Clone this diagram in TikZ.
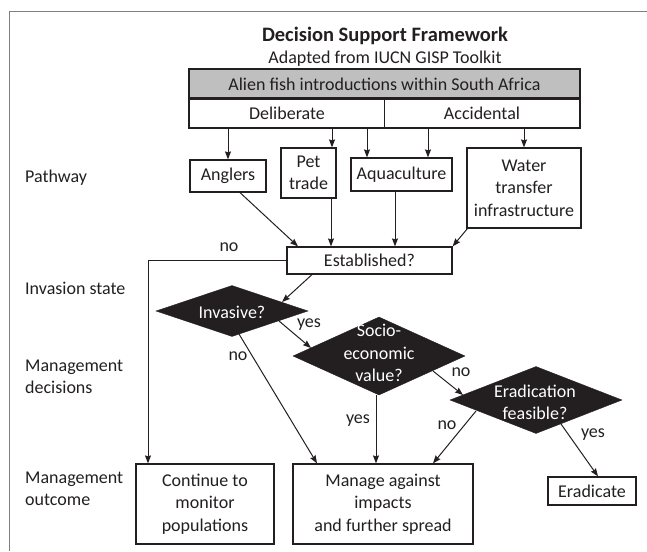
\documentclass[tikz,border=0pt]{standalone}
\usepackage{fontspec}
\setmainfont{Carlito}
\usetikzlibrary{shapes.geometric,arrows.meta,calc}
\definecolor{ink}{RGB}{35,31,32}
\definecolor{hdrgray}{RGB}{191,191,191}
\definecolor{frm}{RGB}{128,128,128}
\begin{document}
\begin{tikzpicture}[x=1pt,y=-1pt,
  font=\fontsize{18}{22.5}\selectfont, text=ink,
  box/.style={draw=ink, line width=1.2pt, fill=white, align=center, inner sep=0pt},
  dia/.style={diamond, fill=ink, draw=ink, inner sep=0pt},
  wtxt/.style={text=white, align=center, inner sep=0pt},
  lbl/.style={inner sep=0pt},
  side/.style={inner sep=0pt, anchor=west, align=left},
  arr/.style={draw=ink, line width=1pt, -{Stealth[length=8pt,width=6pt,inset=1pt]}},
  conn/.style={draw=ink, line width=1pt}]
\useasboundingbox (0,0) rectangle (647,551);
\draw[frm, line width=1pt] (647,12) -- (9,12) -- (9,551);

% titles
\node[lbl, font=\fontsize{20.5}{24}\selectfont\bfseries] (title) at (385,36) {Decision Support Framework};
\node[lbl] (sub) at (385,59) {Adapted from IUCN GISP Toolkit};

% header boxes
\node[box, fill=hdrgray, minimum width=391pt, minimum height=29pt] (hdr) at (384.5,83.5) {};
\node[lbl] (hdrt) at (384.5,84) {Alien fish introductions within South Africa};
\node[box, minimum width=391pt, minimum height=30pt] (src) at (384.5,113) {};
\draw[conn, line width=1.2pt] (src.north) -- (src.south);
\draw[draw=ink, line width=2.6pt] (hdr.south west) -- (hdr.south east);
\node[lbl] (delib) at (287,113) {Deliberate};
\node[lbl] (accid) at (482,113) {Accidental};

% pathway boxes
\node[box, minimum width=76pt, minimum height=32pt] (anglers) at (228,176) {Anglers};
\node[box, minimum width=55pt, minimum height=50pt] (pet) at (308.5,173) {Pet\\trade};
\node[box, minimum width=101pt, minimum height=33pt] (aqua) at (401.5,174.5) {Aquaculture};
\node[box, minimum width=114pt, minimum height=80pt] (water) at (524,188) {Water\\transfer\\infrastructure};
\node[box, minimum width=165pt, minimum height=27pt] (est) at (369.5,260.5) {Established?};

% diamonds
\node[dia, minimum width=152pt, minimum height=51pt] (inv) at (232,311) {};
\node[wtxt] (invt) at (232,312) {Invasive?};
\node[dia, minimum width=172pt, minimum height=78pt] (soc) at (379,356) {};
\node[wtxt] (soct) at (379,353) {Socio-\\economic\\value?};
\node[dia, minimum width=172pt, minimum height=67pt] (efe) at (536,400) {};
\node[wtxt] (efet) at (535,402.5) {Eradication\\feasible?};

% outcome boxes
\node[box, minimum width=138pt, minimum height=80pt] (cont) at (205,504) {Continue to\\monitor\\populations};
\node[box, minimum width=180pt, minimum height=80pt] (mng) at (383,504) {Manage against\\impacts\\and further spread};
\node[box, minimum width=88pt, minimum height=28pt] (erad) at (592,491) {Eradicate};

% side labels
\node[side] (lp) at (25,178) {Pathway};
\node[side] (li) at (25,288) {Invasion state};
\node[side] (ld) at (25,377) {Management\\decisions};
\node[side] (lo) at (25,489) {Management\\outcome};

% arrows from source box
\draw[arr] (anglers.north |- src.south) -- (anglers.north);
\draw[arr] (332,0 |- src.south) -- (332,0 |- pet.north);
\draw[arr] (367,0 |- src.south) -- (367,0 |- aqua.north);
\draw[arr] (428,0 |- src.south) -- (428,0 |- aqua.north);
\draw[arr] (water.north |- src.south) -- (water.north);

% into established
\draw[arr] (240,0 |- anglers.south) -- (298,0 |- est.north);
\draw[arr] (331,0 |- pet.south) -- (331,0 |- est.north);
\draw[arr] (395,0 |- aqua.south) -- (395,0 |- est.north);
\draw[arr] ($(water.south west)+(1,0)$) -- (est.north east);

% established onwards
\draw[arr] (312,0 |- est.south) -- ($(inv)+(50,-9)$);
\draw[arr] (est.west) -- (148,0 |- est.west) -- (148,0 |- cont.north);
\node[lbl] (no1) at (229,247) {no};

\draw[arr] ($(inv)+(47,10)$) -- ($(soc)+(-68,-8)$);
\node[lbl] (yes1) at (309,325) {yes};
\draw[arr] ($(inv)+(7,23)$) -- (317,0 |- mng.north);
\node[lbl] (no2) at (238,356) {no};

\draw[arr] (376,0 |- soc.south) -- (376,0 |- mng.north);
\node[lbl] (yes2) at (358,421) {yes};
\draw[arr] ($(soc)+(54,15)$) -- ($(efe)+(-73,-5)$);
\node[lbl] (no3) at (461,372) {no};

\draw[arr] ($(efe)+(-60,11)$) -- (433,0 |- mng.north);
\node[lbl] (no4) at (447,425) {no};
\draw[arr] ($(efe)+(25,24)$) -- (598,0 |- erad.north);
\node[lbl] (yes3) at (593,435) {yes};
\end{tikzpicture}
\end{document}
